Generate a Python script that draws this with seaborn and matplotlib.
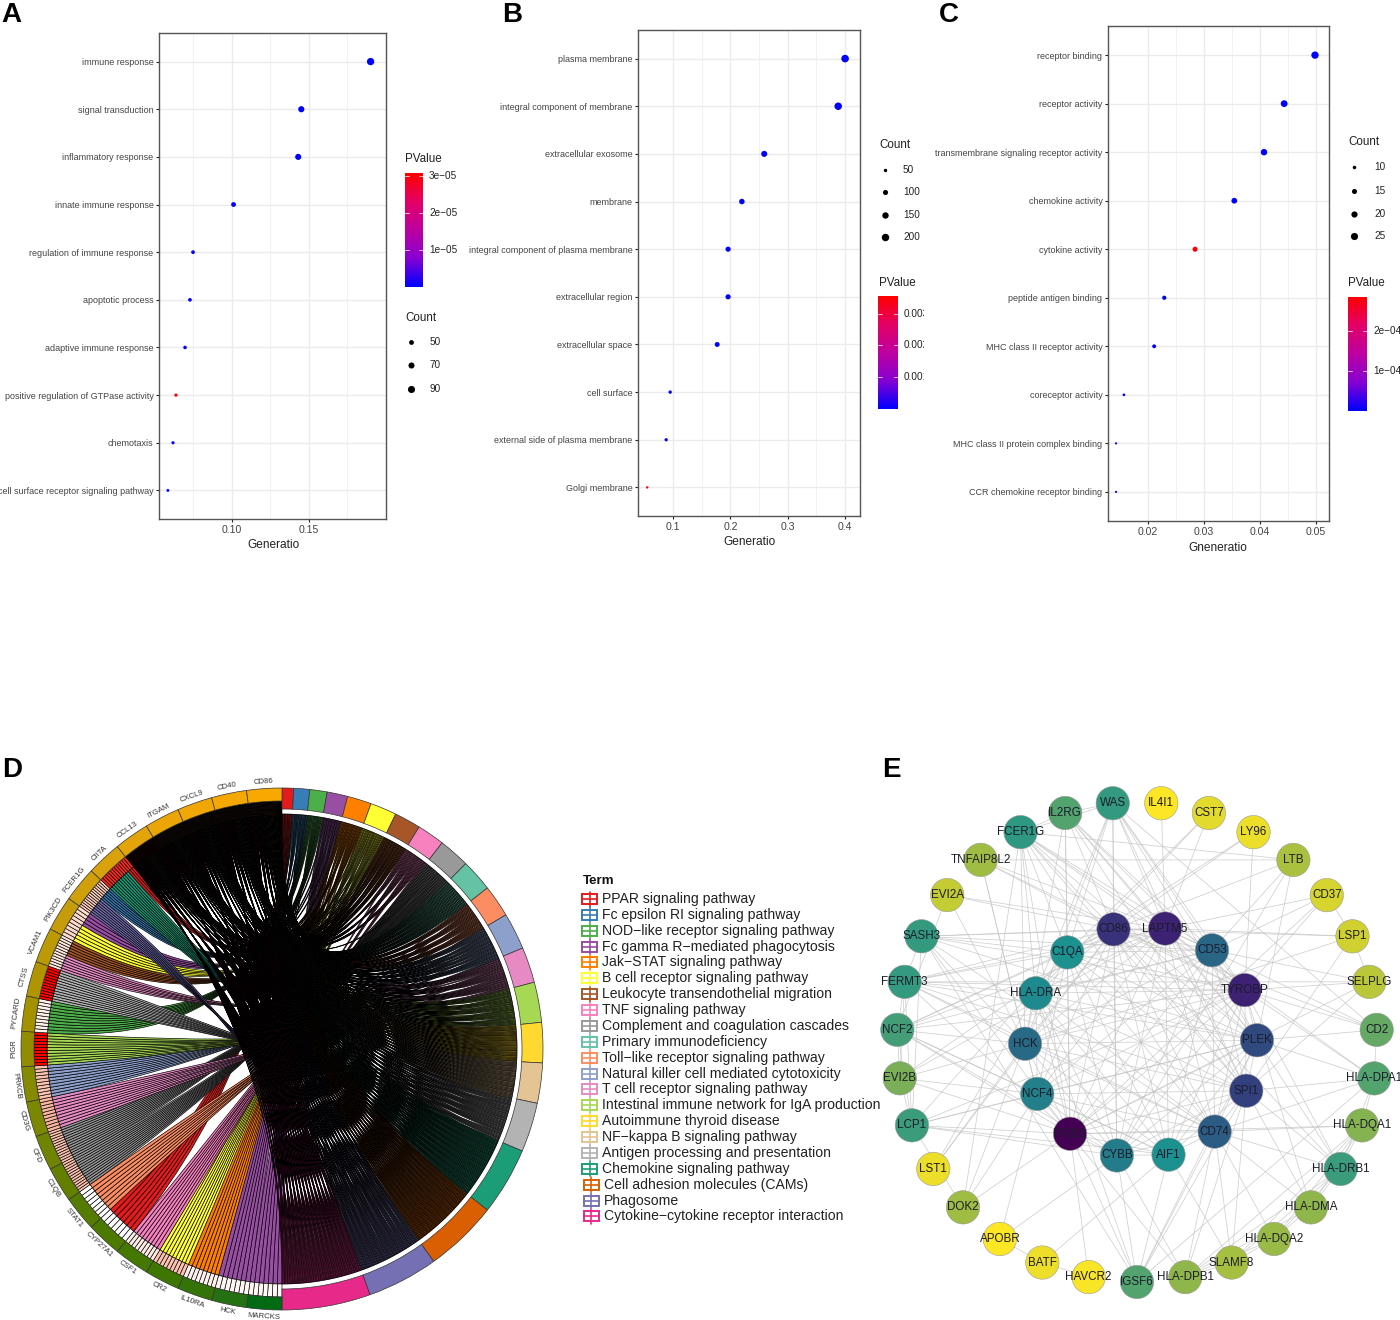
import itertools
import numpy as np
import pandas as pd
import matplotlib
matplotlib.use("Agg")
import matplotlib.pyplot as plt
from matplotlib.colors import LinearSegmentedColormap
from matplotlib.patches import Wedge, PathPatch, Rectangle, Circle
from matplotlib.path import Path
from matplotlib.transforms import Bbox
import seaborn as sns

W, H = 1400, 1320
sns.set_theme(style="white")
plt.rcParams["font.family"] = ["Liberation Sans", "DejaVu Sans"]

# ---------------- Panel A/B/C data ----------------
a_terms = ["immune response", "signal transduction", "inflammatory response", "innate immune response",
           "regulation of immune response", "apoptotic process", "adaptive immune response",
           "positive regulation of GTPase activity", "chemotaxis", "cell surface receptor signaling pathway"]
a_ratio = [0.190, 0.145, 0.143, 0.101, 0.0747, 0.0727, 0.0695, 0.0636, 0.0617, 0.0584]
a_count = [95, 72, 71, 50, 37, 36, 35, 32, 31, 29]
a_p = [1e-7, 1e-7, 1e-7, 2e-7, 3e-7, 3e-7, 4e-7, 3e-5, 5e-7, 6e-7]

b_terms = ["plasma membrane", "integral component of membrane", "extracellular exosome", "membrane",
           "integral component of plasma membrane", "extracellular region", "extracellular space",
           "cell surface", "external side of plasma membrane", "Golgi membrane"]
b_ratio = [0.400, 0.388, 0.259, 0.220, 0.196, 0.196, 0.177, 0.095, 0.088, 0.055]
b_count = [208, 202, 135, 114, 102, 102, 92, 49, 46, 29]
b_p = [1e-5, 1e-5, 1e-5, 2e-5, 1e-5, 1e-5, 1e-5, 1e-5, 2e-5, 3.5e-3]

c_terms = ["receptor binding", "receptor activity", "transmembrane signaling receptor activity",
           "chemokine activity", "cytokine activity", "peptide antigen binding",
           "MHC class II receptor activity", "coreceptor activity",
           "MHC class II protein complex binding", "CCR chemokine receptor binding"]
c_ratio = [0.0498, 0.0443, 0.0407, 0.0354, 0.0284, 0.0229, 0.0211, 0.0157, 0.0143, 0.0143]
c_count = [26, 23, 21, 18, 15, 12, 11, 8, 7, 7]
c_p = [2e-6, 2e-6, 2e-6, 2e-6, 2.5e-4, 2e-6, 2e-6, 3e-6, 3e-6, 3e-6]

# ---------------- Panel D data ----------------
term_names = ["PPAR signaling pathway", "Fc epsilon RI signaling pathway", "NOD\u2212like receptor signaling pathway",
              "Fc gamma R\u2212mediated phagocytosis", "Jak\u2212STAT signaling pathway", "B cell receptor signaling pathway",
              "Leukocyte transendothelial migration", "TNF signaling pathway", "Complement and coagulation cascades",
              "Primary immunodeficiency", "Toll\u2212like receptor signaling pathway",
              "Natural killer cell mediated cytotoxicity", "T cell receptor signaling pathway",
              "Intestinal immune network for IgA production", "Autoimmune thyroid disease",
              "NF\u2212kappa B signaling pathway", "Antigen processing and presentation", "Chemokine signaling pathway",
              "Cell adhesion molecules (CAMs)", "Phagosome", "Cytokine\u2212cytokine receptor interaction"]
term_colors = ["#E41A1C", "#377EB8", "#4DAF4A", "#984EA3", "#FF7F00", "#FFFF33", "#A65628", "#F781BF", "#999999",
               "#66C2A5", "#FC8D62", "#8DA0CB", "#E78AC3", "#A6D854", "#FFD92F", "#E5C494", "#B3B3B3",
               "#1B9E77", "#D95F02", "#7570B3", "#E7298A"]
# genes from the bottom of the circle, going up the left side
gene_names = ["MARCKS", "HCK", "IL10RA", "CR2", "CSF1", "CYP27A1", "STAT1", "C1QB", "CFD", "CD3G", "PRKCB", "PIGR",
              "PYCARD", "CTSS", "VCAM1", "PIK3CD", "FCER1G", "CIITA", "CCL13", "ITGAM", "CXCL9", "CD40", "CD86"]
gene_colors = ["#006B12", "#247012", "#337308", "#3D7600", "#457800", "#4C7A00", "#557C00", "#637F00", "#6F8400",
               "#7C8700", "#868A00", "#938C00", "#A39100", "#B09500", "#BC9A06", "#C69C0A", "#D0A00C", "#D9A20C",
               "#E3A40A", "#EBA507", "#F0A605", "#F5A703", "#F8A800"]
gene_fc = [0.08, 0.1, 0.15, 0.45, 0.2, 0.0, 0.0, 0.45, 0.45, 0.5, 0.45, 1.0, 0.15, 1.0, 0.25, 0.35, 0.4, 0.9,
           0.9, 0.6, 0.6, 0.6, 0.6]
# links per gene: {term index: number of links}
gene_links = [{3: 7}, {3: 7}, {4: 8}, {5: 9}, {7: 9}, {0: 7}, {10: 8}, {8: 13}, {8: 13}, {12: 10}, {11: 10}, {13: 11},
              {2: 10}, {16: 12}, {12: 6, 6: 6}, {3: 4, 5: 5}, {1: 6, 19: 8}, {17: 10, 0: 3}]
top_links = [[0, 2, 1, 0, 3, 2, 3, 3, 0, 5, 4, 4, 3, 5, 7, 7, 6, 10, 13, 11, 15],
             [0, 2, 1, 0, 3, 2, 4, 3, 0, 6, 4, 5, 3, 5, 7, 7, 6, 10, 13, 11, 16],
             [0, 2, 1, 0, 3, 2, 4, 3, 1, 6, 4, 5, 3, 5, 7, 7, 6, 10, 13, 11, 15],
             [0, 1, 1, 0, 2, 2, 3, 3, 0, 6, 4, 4, 3, 5, 7, 7, 6, 10, 13, 11, 16],
             [0, 1, 1, 0, 2, 1, 3, 3, 0, 5, 4, 4, 3, 4, 7, 7, 7, 9, 12, 10, 15]]

# ---------------- Panel E data ----------------
outer_nodes = ["WAS", "IL4I1", "CST7", "LY96", "LTB", "CD37", "LSP1", "SELPLG", "CD2", "HLA-DPA1", "HLA-DQA1",
               "HLA-DRB1", "HLA-DMA", "HLA-DQA2", "SLAMF8", "HLA-DPB1", "IGSF6", "HAVCR2", "BATF", "APOBR", "DOK2",
               "LST1", "LCP1", "EVI2B", "NCF2", "FERMT3", "SASH3", "EVI2A", "TNFAIP8L2", "FCER1G", "IL2RG"]
outer_shade = [.60, 1.0, .95, .97, .85, .93, .92, .88, .72, .68, .78, .62, .80, .82, .84, .80, .68, .99, .97, 1.0,
               .83, .97, .62, .76, .64, .60, .60, .90, .83, .58, .68]
inner_nodes = ["LAPTM5", "CD53", "TYROBP", "PLEK", "SPI1", "CD74", "AIF1", "CYBB", "ITGB2", "NCF4", "HCK", "HLA-DRA",
               "C1QA", "CD86"]
inner_shade = [.08, .32, .08, .22, .18, .28, .50, .40, 0.0, .42, .33, .47, .50, .13]
outer_links = {
    "WAS": ["CD86", "LAPTM5", "CD53", "C1QA", "HLA-DRA", "TYROBP", "CYBB", "IL2RG", "SPI1", "PLEK", "HCK", "FCER1G"],
    "IL4I1": ["LAPTM5"],
    "CST7": ["C1QA", "LAPTM5", "HLA-DRA"],
    "LY96": ["CD86", "TYROBP", "C1QA"],
    "LTB": ["FCER1G", "CD86", "CD53", "PLEK", "CYBB"],
    "CD37": ["CD53", "LAPTM5", "TYROBP", "LSP1", "ITGB2"],
    "LSP1": ["CD86", "LAPTM5", "SELPLG", "HCK", "SPI1"],
    "SELPLG": ["FERMT3", "TYROBP", "CD53", "ITGB2", "SPI1"],
    "CD2": ["TYROBP", "WAS", "CD86", "LAPTM5", "PLEK", "HLA-DPA1"],
    "HLA-DPA1": ["PLEK", "TYROBP", "LAPTM5", "CD74", "HLA-DQA1", "HLA-DRB1", "IGSF6", "SPI1"],
    "HLA-DQA1": ["HLA-DRB1", "HLA-DMA", "HLA-DQA2", "HLA-DPB1", "CD74", "ITGB2", "SLAMF8"],
    "HLA-DRB1": ["HLA-DMA", "HLA-DQA2", "HLA-DPB1", "CD74", "PLEK", "TYROBP", "SPI1", "CD86", "SLAMF8"],
    "HLA-DMA": ["HLA-DQA2", "HLA-DPB1", "CD74", "SPI1", "TYROBP"],
    "HLA-DQA2": ["HLA-DPB1", "SLAMF8", "CD74"],
    "SLAMF8": ["CD74", "AIF1", "SPI1", "HLA-DPB1"],
    "HLA-DPB1": ["CD74", "CYBB", "ITGB2", "SPI1"],
    "IGSF6": ["ITGB2", "CYBB", "CD74", "SPI1", "AIF1", "SASH3", "HLA-DRA", "PLEK"],
    "HAVCR2": ["ITGB2", "BATF"],
    "BATF": ["AIF1", "APOBR"],
    "APOBR": ["NCF4", "CYBB"],
    "DOK2": ["NCF4", "FCER1G", "HCK", "LCP1", "ITGB2"],
    "LST1": ["HLA-DRA", "CD86", "HCK"],
    "LCP1": ["NCF4", "ITGB2", "CYBB", "AIF1", "C1QA", "PLEK", "FERMT3", "EVI2B", "TYROBP", "NCF2", "SASH3"],
    "EVI2B": ["NCF2", "HCK", "ITGB2", "CD86", "FERMT3", "LAPTM5", "NCF4"],
    "NCF2": ["FERMT3", "NCF4", "ITGB2", "CYBB", "CD86", "TYROBP", "AIF1", "LAPTM5", "HCK", "CD53", "C1QA"],
    "FERMT3": ["SASH3", "TYROBP", "PLEK", "ITGB2", "C1QA", "HLA-DRA", "CD86", "CD74", "SPI1", "LAPTM5", "HCK"],
    "SASH3": ["TYROBP", "PLEK", "LAPTM5", "CD86", "ITGB2", "CD53", "HCK", "CD74", "C1QA"],
    "EVI2A": ["LAPTM5", "CD86", "HCK", "NCF2"],
    "TNFAIP8L2": ["CD86", "LAPTM5", "NCF4", "HCK", "TYROBP", "LTB"],
    "FCER1G": ["IL2RG", "CD86", "LAPTM5", "CD53", "TYROBP", "PLEK", "SPI1", "CD74", "C1QA", "HLA-DRA", "HCK", "ITGB2"],
    "IL2RG": ["CD86", "LAPTM5", "CD53", "C1QA", "TYROBP", "HCK", "SPI1", "ITGB2", "PLEK"],
}

GREY = "#444444"
pmap = LinearSegmentedColormap.from_list("pval", [(0, "#0000FF"), (0.25, "#8700D2"), (0.5, "#BE00A0"),
                                                  (0.75, "#E40066"), (1, "#FF0000")])
node_map = LinearSegmentedColormap.from_list(
    "node", [(0, "#440154"), (.1, "#3B2A7A"), (.2, "#31457F"), (.3, "#2A6185"), (.4, "#247C8A"), (.5, "#1D9090"),
             (.6, "#349A7F"), (.7, "#5AA56C"), (.8, "#8FB64A"), (.9, "#C3CB34"), (1, "#FDE725")])
fig = plt.figure(figsize=(W / 100, H / 100), dpi=100, facecolor="white")


def px_ax(x0, y0, x1, y1, **kw):
    return fig.add_axes([x0 / W, 1 - y1 / H, (x1 - x0) / W, (y1 - y0) / H], **kw)


over = px_ax(0, 0, W, H)
over.set_xlim(0, W)
over.set_ylim(H, 0)
over.axis("off")
over.set_zorder(5)
over.patch.set_alpha(0)


def dotplot(box, terms, ratio, count, pval, xlim, major, minor, ticklabels, xlabel, sizes, cnorm, xlab_pos):
    ax = px_ax(*box)
    df = pd.DataFrame({"term": terms, "ratio": ratio, "count": count, "p": pval})
    ax.set_axisbelow(True)
    sns.scatterplot(data=df, x="ratio", y="term", hue="p", palette=pmap, hue_norm=(min(pval), max(pval)),
                    size="count", sizes=sizes, size_norm=cnorm, linewidth=0, legend=False, ax=ax, zorder=3)
    ax.set_xlim(*xlim)
    ax.set_ylim(len(terms) - 1 + 0.6, -0.6)
    ax.set_xticks(major)
    ax.set_xticklabels(ticklabels)
    ax.set_xticks(minor, minor=True)
    ax.grid(True, which="major", color="#ebebeb", lw=1.0)
    ax.grid(True, which="minor", axis="x", color="#f0f0f0", lw=0.6)
    ax.tick_params(axis="both", which="major", length=2.5, width=0.8, color="#222222", labelcolor=GREY, pad=1.5,
                   left=True, bottom=True)
    ax.tick_params(axis="y", labelsize=6.45)
    ax.tick_params(axis="x", labelsize=7.6)
    ax.tick_params(axis="both", which="minor", length=0)
    ax.set_xlabel("")
    ax.set_ylabel("")
    for s in ax.spines.values():
        s.set_color("#555555")
        s.set_linewidth(1.0)
    over.text(xlab_pos[0], xlab_pos[1], xlabel, fontsize=8.6, color="#222222", ha="center", va="center")
    return ax


def size_of(c, sizes, cnorm):
    return sizes[0] + (c - cnorm[0]) / (cnorm[1] - cnorm[0]) * (sizes[1] - sizes[0])


def cbar(x0, y0, x1, y1, vmin, vmax, ticks, labels, clip=None):
    cax = px_ax(x0, y0, x1, y1)
    cax.imshow(np.linspace(1, 0, 200)[:, None], aspect="auto", cmap=pmap, extent=[0, 1, vmin, vmax], vmin=0, vmax=1)
    cax.set_xticks([])
    cax.set_yticks([])
    for s in cax.spines.values():
        s.set_visible(False)
    for t, lab in zip(ticks, labels):
        cax.plot([0, 0.2], [t, t], color="white", lw=0.6, alpha=0.85)
        cax.plot([0.8, 1], [t, t], color="white", lw=0.6, alpha=0.85)
        ypix = y0 + (vmax - t) / (vmax - vmin) * (y1 - y0)
        txt = over.text(x1 + 6, ypix, lab, fontsize=7.2, color="#222222", ha="left", va="center")
        if clip is not None:
            txt.set_clip_on(True)
            txt.set_clip_box(Bbox([[0, 0], [clip, H]]))
    cax.set_xlim(0, 1)
    cax.set_ylim(vmin, vmax)


def size_legend(title_xy, dot_x, lab_x, ys, vals, sizes, cnorm):
    over.text(title_xy[0], title_xy[1], "Count", fontsize=8.4, color="#222222", ha="left", va="center")
    for y, v in zip(ys, vals):
        over.scatter([dot_x], [y], s=size_of(v, sizes, cnorm), color="black", linewidth=0)
        over.text(lab_x, y, str(v), fontsize=7.2, color="#222222", ha="left", va="center")


# Panel A
sz_a, nm_a = (4.5, 28), (29, 95)
dotplot((159, 33, 386, 519), a_terms, a_ratio, a_count, a_p, (0.0526, 0.200), [0.10, 0.15], [0.075, 0.125, 0.175],
        ["0.10", "0.15"], "Generatio", sz_a, nm_a, (273, 545))
over.text(405, 159, "PValue", fontsize=8.4, color="#222222", ha="left", va="center")
cbar(405, 173, 423, 287, 1e-7, 3.07e-5, [1e-5, 2e-5, 3e-5], ["1e\u221205", "2e\u221205", "3e\u221205"])
size_legend((405, 318), 411, 430, [342, 365, 389], [50, 70, 90], sz_a, nm_a)

# Panel B
sz_b, nm_b = (3, 30), (29, 208)
dotplot((638, 30, 860, 516), b_terms, b_ratio, b_count, b_p, (0.0389, 0.426), [0.1, 0.2, 0.3, 0.4],
        [0.15, 0.25, 0.35], ["0.1", "0.2", "0.3", "0.4"], "Generatio", sz_b, nm_b, (750, 542))
size_legend((879, 145), 885, 903, [170, 192, 215, 237], [50, 100, 150, 200], sz_b, nm_b)
over.text(879, 283, "PValue", fontsize=8.4, color="#222222", ha="left", va="center")
cbar(878, 296, 898, 409, 1e-5, 3.55e-3, [1e-3, 2e-3, 3e-3], ["0.001", "0.002", "0.003"], clip=924)

# Panel C
sz_c, nm_c = (2.5, 28), (7, 26)
dotplot((1108, 26, 1329, 521), c_terms, c_ratio, c_count, c_p, (0.01286, 0.0523), [0.02, 0.03, 0.04, 0.05],
        [0.025, 0.035, 0.045], ["0.02", "0.03", "0.04", "0.05"], "Gneneratio", sz_c, nm_c, (1218, 548))
size_legend((1348, 142), 1354, 1374, [167, 191, 214, 236], [10, 15, 20, 25], sz_c, nm_c)
over.text(1348, 283, "PValue", fontsize=8.4, color="#222222", ha="left", va="center")
cbar(1348, 297, 1367, 411, 2e-6, 2.83e-4, [1e-4, 2e-4], ["1e\u221204", "2e\u221204"], clip=1400)

# Panel letters
for letter, x, y in [("A", 1, 15), ("B", 502, 15), ("C", 939, 15), ("D", 2, 770), ("E", 882, 770)]:
    over.text(x, y, letter, fontsize=20, fontweight="bold", color="black", ha="left", va="center")

# ---------------- Panel D: chord ----------------
cx, cy = 282, 1049
dax = px_ax(0, 770, 578, 1320)
dax.set_xlim(-cx, 578 - cx)
dax.set_ylim(-(1320 - cy), cy - 770)
dax.axis("off")
R_GENE_OUT, R_GENE_IN, R_CHORD, R_TERM_OUT, R_TERM_IN = 261, 248, 235, 261, 240


def pol(th, r):
    t = np.deg2rad(th)
    return (r * np.sin(t), r * np.cos(t))


n_terms = len(term_names)
table = []
for row in gene_links:
    table.append([row.get(t, 0) for t in range(n_terms)])
table.extend(top_links)
table = np.array(table)
term_totals = table.sum(axis=0)
deg_per_link = 180.0 / term_totals.sum()
n_genes = len(gene_names)
gene_span = 180.0 / n_genes

# term sectors
term_start = np.concatenate([[0], np.cumsum(term_totals)]) * deg_per_link
for t in range(n_terms):
    dax.add_patch(Wedge((0, 0), R_TERM_OUT, 90 - term_start[t + 1], 90 - term_start[t], width=R_TERM_OUT - R_TERM_IN,
                        facecolor=term_colors[t], edgecolor="#333333", lw=0.5, zorder=4))
# gene sectors
for g in range(n_genes):
    a0 = 180 + g * gene_span
    dax.add_patch(Wedge((0, 0), R_GENE_OUT, 90 - a0 - gene_span, 90 - a0, width=R_GENE_OUT - R_GENE_IN,
                        facecolor=gene_colors[g], edgecolor="#333333", lw=0.5, zorder=4))
    mid = a0 + gene_span / 2
    lx, ly = pol(mid, R_GENE_OUT + 7)
    rot = 180 - mid if mid < 270 else 360 - mid
    dax.text(lx, ly, gene_names[g], fontsize=5.6, color="#333333", rotation=rot, rotation_mode="anchor",
             ha="center", va="center")

# link slots: each gene's links are spread evenly over the arc of its term
term_cursor = term_start[:-1].copy()
links = []
for t in range(n_terms):
    members = []
    for g in range(n_genes - 1, -1, -1):
        n = table[g, t]
        members.extend(((i + 0.5) / n, -g) for i in range(n))
    for _, neg_g in sorted(members):
        links.append([-neg_g, t, term_cursor[t]])
        term_cursor[t] += deg_per_link
slot_heat = LinearSegmentedColormap.from_list("heat", ["#FFFFFF", "#FDE0D2", "#FA8A6E", "#FF0000"])
link_paths = []
gene_cursor = {g: 0 for g in range(n_genes)}
gene_n = table.sum(axis=1)
links_sorted = sorted(links, key=lambda l: (l[0], -l[1]))
for g, t, t0 in links_sorted:
    w = gene_span / gene_n[g]
    a0 = 180 + g * gene_span + gene_cursor[g] * w
    a1 = a0 + w
    gene_cursor[g] += 1
    t1 = t0 + deg_per_link
    verts = [pol(a0, R_CHORD), pol(a1, R_CHORD), (0, 0), pol(t0, R_CHORD), pol(t1, R_CHORD), (0, 0),
             pol(a0, R_CHORD), pol(a0, R_CHORD)]
    codes = [Path.MOVETO, Path.LINETO, Path.CURVE3, Path.CURVE3, Path.LINETO, Path.CURVE3, Path.CURVE3, Path.CLOSEPOLY]
    link_paths.append((t, g, Path(verts, codes)))
    # heat ring cell
    dax.add_patch(Wedge((0, 0), R_GENE_IN, 90 - a1, 90 - a0, width=R_GENE_IN - R_CHORD,
                        facecolor=slot_heat(gene_fc[g]), edgecolor="black", lw=0.45, zorder=3))
for t, g, p in sorted(link_paths, key=lambda x: (x[1], x[0])):
    dax.add_patch(PathPatch(p, facecolor=term_colors[t], edgecolor="black", lw=0.48, zorder=2))

# legend of D
over.text(583, 881, "Term", fontsize=9.6, fontweight="bold", color="#111111", ha="left", va="center")
for i, (name, col) in enumerate(zip(term_names, term_colors)):
    y = 899 + i * 15.87
    x0 = 582 if i < 18 else 583.5
    over.add_patch(Rectangle((x0, y - 5), 15, 10, facecolor="white", edgecolor=col, lw=1.4))
    over.plot([x0, x0 + 15], [y, y], color=col, lw=1.2)
    over.plot([x0 + 7.5, x0 + 7.5], [y - 7.5, y + 7.5], color=col, lw=1.2)
    over.text(x0 + 20, y, name, fontsize=10.05, color="#222222", ha="left", va="center")

# ---------------- Panel E: network ----------------
ecx, ecy = 1137, 1042
eax = px_ax(880, 775, 1400, 1320)
eax.set_xlim(880 - ecx, 1400 - ecx)
eax.set_ylim(-(1320 - ecy), ecy - 775)
eax.axis("off")
pos = {}
for k, name in enumerate(outer_nodes):
    pos[name] = pol(-5.8 + k * 360.0 / len(outer_nodes), 240)
for k, name in enumerate(inner_nodes):
    x, y = pol(12 + k * 360.0 / len(inner_nodes), 116)
    pos[name] = (x + 4, y)
edges = list(itertools.combinations(inner_nodes, 2))
for src, dst in outer_links.items():
    edges.extend((src, d) for d in dst)
for s, d in edges:
    eax.plot([pos[s][0], pos[d][0]], [pos[s][1], pos[d][1]], color="#c4c4c4", lw=0.55, alpha=0.8, zorder=1)
for names, shades in ((outer_nodes, outer_shade), (inner_nodes, inner_shade)):
    for name, sh in zip(names, shades):
        eax.add_patch(Circle(pos[name], 16.7, facecolor=node_map(sh), edgecolor="#9a9a9a", lw=0.4, zorder=2))
        eax.text(pos[name][0], pos[name][1], name, fontsize=8.4, color="#1c1c2a", ha="center", va="center", zorder=3)

fig.savefig("out.png", dpi=100)
